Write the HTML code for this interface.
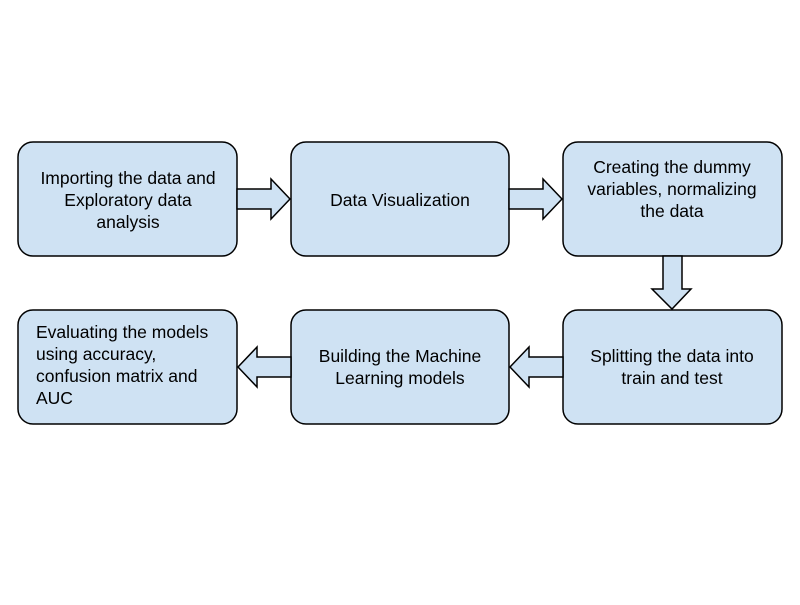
<!DOCTYPE html>
<html><head><style>body{margin:0;background:#fff}</style></head><body>
<svg width="800" height="600" xmlns="http://www.w3.org/2000/svg" font-family="Liberation Sans, Arial, sans-serif" font-size="17.5" text-anchor="middle">
<g fill="#cfe2f3" stroke="#000" stroke-width="1.5">
<rect x="18" y="142" width="219" height="114" rx="15"/>
<rect x="291" y="142" width="218" height="114" rx="15"/>
<rect x="563" y="142" width="219" height="114" rx="15"/>
<rect x="18" y="310" width="219" height="114" rx="15"/>
<rect x="291" y="310" width="218" height="114" rx="15"/>
<rect x="563" y="310" width="219" height="114" rx="15"/>
<polygon points="237,189 271,189 271,179 290,199 271,219 271,209 237,209"/>
<polygon points="509,189 543,189 543,179 562,199 543,219 543,209 509,209"/>
<polygon points="663,256 682,256 682,289 691,289 672,309 652,289 663,289"/>
<polygon points="563,357 529,357 529,347 510,367 529,387 529,377 563,377"/>
<polygon points="291,357 257,357 257,347 238,367 257,387 257,377 291,377"/>
</g>
<g fill="#000">
<text x="128" y="184">Importing the data and</text>
<text x="128" y="206">Exploratory data</text>
<text x="128" y="228">analysis</text>
<text x="400" y="206">Data Visualization</text>
<text x="672" y="173">Creating the dummy</text>
<text x="672" y="195">variables, normalizing</text>
<text x="672" y="217">the data</text>
<g text-anchor="start">
<text x="36" y="338">Evaluating the models</text>
<text x="36" y="360">using accuracy,</text>
<text x="36" y="382">confusion matrix and</text>
<text x="36" y="404">AUC</text>
</g>
<text x="400" y="362">Building the Machine</text>
<text x="400" y="384">Learning models</text>
<text x="672" y="362">Splitting the data into</text>
<text x="672" y="384">train and test</text>
</g>
</svg>
</body></html>
